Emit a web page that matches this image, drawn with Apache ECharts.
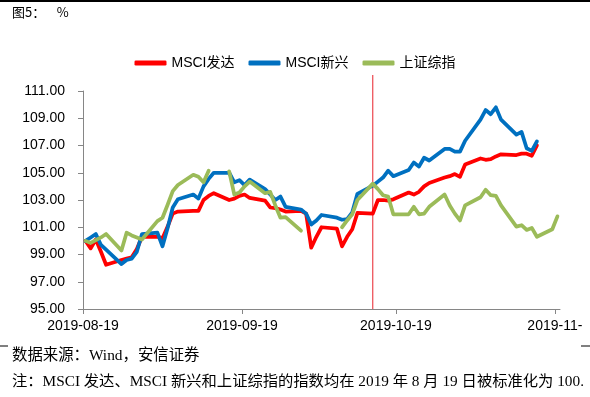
<!DOCTYPE html>
<html>
<head>
<meta charset="utf-8">
<script src="https://cdn.jsdelivr.net/npm/echarts@6/dist/echarts.min.js"></script>
<style>
html,body{margin:0;padding:0;background:#fff;}
#chart{width:590px;height:397px;}
</style>
</head>
<body>
<div id="chart"></div>
<script>
// ---- data ----
const dates = [
  '2019-08-19','2019-08-20','2019-08-21','2019-08-22','2019-08-23',
  '2019-08-26','2019-08-27','2019-08-28','2019-08-29','2019-08-30',
  '2019-09-02','2019-09-03','2019-09-04','2019-09-05','2019-09-06',
  '2019-09-09','2019-09-10','2019-09-11','2019-09-12','2019-09-13',
  '2019-09-16','2019-09-17','2019-09-18','2019-09-19','2019-09-20',
  '2019-09-23','2019-09-24','2019-09-25','2019-09-26','2019-09-27',
  '2019-09-30','2019-10-01','2019-10-02','2019-10-03','2019-10-04',
  '2019-10-07','2019-10-08','2019-10-09','2019-10-10','2019-10-11',
  '2019-10-14','2019-10-15','2019-10-16','2019-10-17','2019-10-18',
  '2019-10-21','2019-10-22','2019-10-23','2019-10-24','2019-10-25',
  '2019-10-28','2019-10-29','2019-10-30','2019-10-31','2019-11-01',
  '2019-11-04','2019-11-05','2019-11-06','2019-11-07','2019-11-08',
  '2019-11-11','2019-11-12','2019-11-13','2019-11-14','2019-11-15',
  '2019-11-18','2019-11-19'
];
const msciDeveloped = [
  100.0, 99.45, 100.1, 99.2, 98.25,
  98.6, 98.7, 98.8, 99.4, 100.3,
  100.3, 100.2, 101.05, 102.0, 102.15,
  102.2, 102.2, 103.0, 103.3, 103.5,
  103.0, 103.1, 103.3, 103.4, 103.15,
  102.95, 102.45, 102.4, 102.3, 102.15,
  102.2, 102.0, 99.5, 100.3, 101.0,
  100.9, 99.6, 100.3, 100.85, 102.05,
  102.0, 103.0, 103.0, 102.95, 103.05,
  103.55, 103.4, 103.6, 104.0, 104.25,
  104.65, 104.75, 104.9, 104.7, 105.6,
  106.05, 105.95, 106.0, 106.2, 106.35,
  106.3, 106.4, 106.4, 106.25, 107.0,
  null, null
];
const msciEmerging = [
  100.0, 100.25, 100.5, 99.7, 99.35,
  98.3, 98.6, 98.7, 99.2, 100.5,
  100.6, 99.6, 100.95, 102.45, 103.05,
  103.4, 103.1, 104.0, 104.55, 105.0,
  105.0, 104.3, 104.45, 104.1, 104.5,
  103.8, 103.4, 103.0, 103.25, 102.5,
  102.3, 102.0, 101.2, 101.5, 101.9,
  101.7, 101.55, 101.6, 102.1, 103.45,
  104.05, 104.35, 104.65, 105.15, 104.75,
  105.2, 105.75, 105.45, 106.1, 105.9,
  106.75, 106.75, 106.55, 106.55, 107.35,
  108.9, 109.6, 109.3, 109.8, 108.9,
  107.8, 108.0, 106.8, 106.6, 107.3,
  null, null
];
const shComposite = [
  100.0, 99.85, 100.05, 100.25, 100.5,
  99.3, 100.6, 100.4, 100.25, 100.1,
  101.45, 101.7, 102.65, 103.65, 104.1,
  104.85, 104.7, 104.3, 105.15, null,
  105.1, 103.4, 103.55, 104.0, 104.35,
  103.5, 103.6, 102.6, 101.7, 101.75,
  100.75, null, null, null, null,
  null, 101.0, 101.5, 101.95, 103.0,
  104.2, 103.8, 103.35, 103.25, 101.95,
  101.95, 102.5, 101.95, 102.0, 102.5,
  103.4, 102.6, 102.0, 101.5, 102.6,
  103.2, 103.75, 103.35, 103.3, 102.6,
  101.05, 101.15, 100.8, 100.95, 100.3,
  100.85, 101.8
];
const seriesNames = ['MSCI发达', 'MSCI新兴', '上证综指'];
const tickDates = ['2019-08-19', '2019-09-19', '2019-10-19', '2019-11-19'];
const tickLabels = ['2019-08-19', '2019-09-19', '2019-10-19', '2019-11-'];
const yTickValues = [95, 97, 99, 101, 103, 105, 107, 109, 111];
const axisStartDate = '2019-08-19';
const axisEndDate = '2019-11-20';
const eventDate = '2019-10-14';

// ---- helpers ----
function ts(s) { const p = s.split('-').map(Number); return Date.UTC(p[0], p[1] - 1, p[2]); }
const HALF_DAY = 12 * 3600 * 1000; // date-axis points sit mid-day, between tick marks
function pairs(values) { return dates.map((d, i) => [ts(d) + HALF_DAY, values[i]]); }
const tickTs = tickDates.map(ts);

const colors = ['#FF0000', '#0070C0', '#9BBB59'];
const valueSets = [msciDeveloped, msciEmerging, shComposite];

const lineSeries = valueSets.map((vals, i) => ({
  name: seriesNames[i],
  type: 'line',
  xAxisIndex: 0, yAxisIndex: 0,
  data: pairs(vals),
  showSymbol: false,
  symbol: 'none',
  connectNulls: false,
  smooth: false,
  lineStyle: { color: colors[i], width: 3.75, cap: 'round', join: 'round' },
  itemStyle: { color: colors[i] },
  z: 2 + i
}));

const eventSeries = {
  name: 'event',
  type: 'line',
  xAxisIndex: 1, yAxisIndex: 1,
  data: [[ts(eventDate) + HALF_DAY, 0], [ts(eventDate) + HALF_DAY, 1]],
  showSymbol: false, symbol: 'none',
  lineStyle: { color: '#E8202A', width: 1 },
  silent: true,
  z: 1
};

const chart = echarts.init(document.getElementById('chart'), null, { renderer: 'canvas' });
const latin = "'Liberation Sans','Noto Sans CJK SC'";
const serif = "'Liberation Serif','Noto Sans CJK SC'";
chart.setOption({
  animation: false,
  backgroundColor: '#ffffff',
  title: [
    { text: '图5：    %', left: 12, top: 6, padding: 0,
      textStyle: { fontSize: 13, fontWeight: 'normal', color: '#000', fontFamily: "'Noto Sans CJK SC'" } },
    { text: '数据来源：Wind，安信证券', left: 12, top: 348, padding: 0,
      textStyle: { fontSize: 15.4, fontWeight: 'normal', color: '#000', fontFamily: serif } },
    { text: '注：MSCI 发达、MSCI 新兴和上证综指的指数均在 2019 年 8 月 19 日被标准化为 100.', left: 12, top: 374, padding: 0,
      textStyle: { fontSize: 15.3, fontWeight: 'normal', color: '#000', fontFamily: serif } }
  ],
  legend: {
    data: seriesNames,
    top: 51, left: 'center',
    icon: 'roundRect', itemWidth: 32, itemHeight: 5, itemGap: 14,
    textStyle: { fontSize: 14, color: '#000', fontFamily: latin }
  },
  grid: [
    { left: 83, right: 30, top: 91, bottom: 88 },
    { left: 83, right: 30, top: 75, bottom: 88 }
  ],
  xAxis: [
    { type: 'value', gridIndex: 0, min: ts(axisStartDate), max: ts(axisEndDate),
      axisLine: { show: true, lineStyle: { color: '#868686', width: 1 } },
      axisTick: { show: true, customValues: tickTs, length: 5, lineStyle: { color: '#868686' } },
      axisLabel: { customValues: tickTs, margin: 10, fontSize: 14, color: '#000', fontFamily: latin,
        formatter: function (v) { const k = tickTs.indexOf(v); return k >= 0 ? tickLabels[k] : ''; } },
      splitLine: { show: false } },
    { type: 'value', gridIndex: 1, min: ts(axisStartDate), max: ts(axisEndDate), show: false }
  ],
  yAxis: [
    { type: 'value', gridIndex: 0, min: yTickValues[0], max: yTickValues[yTickValues.length - 1], interval: 2,
      axisLine: { show: true, lineStyle: { color: '#868686', width: 1 } },
      axisTick: { show: true, length: 5, lineStyle: { color: '#868686' } },
      axisLabel: { margin: 18, fontSize: 14, color: '#000', fontFamily: latin,
        formatter: function (v) { return v.toFixed(2); } },
      splitLine: { show: false } },
    { type: 'value', gridIndex: 1, min: 0, max: 1, show: false }
  ],
  graphic: [
    { type: 'rect', left: 0, top: 0, shape: { width: 590, height: 2 }, style: { fill: '#000' }, silent: true },
    { type: 'line', shape: { x1: 0, y1: 346, x2: 8, y2: 346 }, style: { stroke: '#000', lineWidth: 1 }, silent: true },
    { type: 'line', shape: { x1: 581, y1: 346, x2: 590, y2: 346 }, style: { stroke: '#000', lineWidth: 1 }, silent: true }
  ],
  series: [eventSeries].concat(lineSeries)
});
</script>
</body>
</html>
